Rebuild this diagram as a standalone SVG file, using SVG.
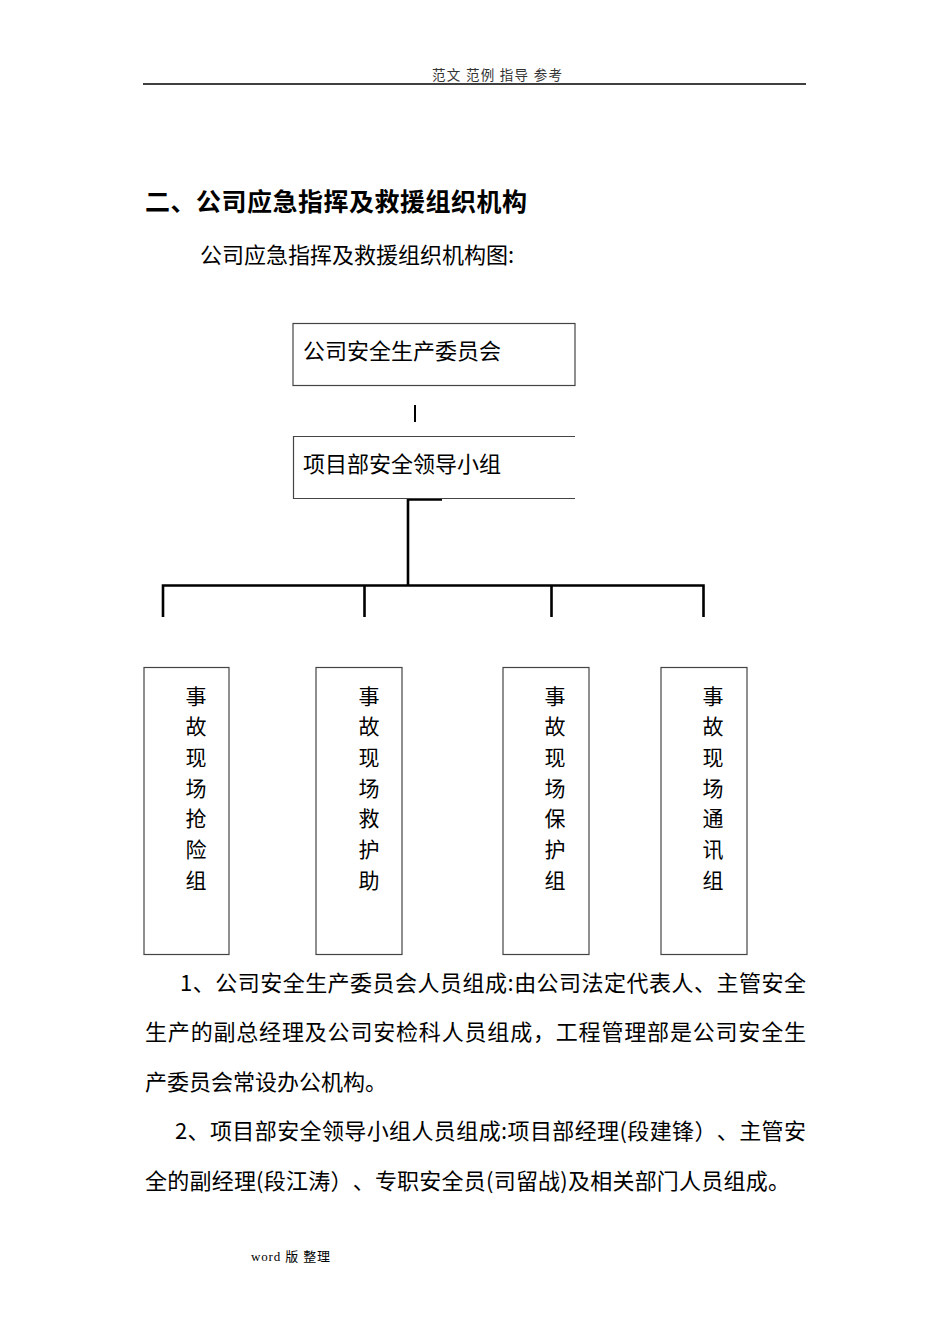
<svg xmlns="http://www.w3.org/2000/svg" width="950" height="1344" viewBox="0 0 950 1344">
<style>
text{font-family:"Noto Sans CJK SC","Noto Sans",sans-serif;fill:#000;text-spacing-trim:space-all}
.box{fill:none;stroke:#444;stroke-width:1.2}
.conn{fill:none;stroke:#000;stroke-width:2.6}
.t22{font-size:22px}
.v{font-size:21px;text-anchor:middle}
</style>
<rect width="950" height="1344" fill="#fff"/>
<g id="header">
<text x="432" y="80" font-size="13.5" textLength="130" lengthAdjust="spacing" style="fill:#333">范文 范例 指导 参考</text>
<line x1="143" y1="84" x2="806" y2="84" stroke="#000" stroke-width="1.5"/>
</g>
<g id="title">
<text x="145" y="211" font-size="25" font-weight="bold" textLength="382" lengthAdjust="spacing">二、公司应急指挥及救援组织机构</text>
<text x="200" y="263" class="t22">公司应急指挥及救援组织机构图:</text>
</g>
<g id="connectors">
<line x1="415" y1="405" x2="415" y2="422" stroke="#000" stroke-width="2"/>
<path class="conn" d="M442,499.5 H408 V585.5"/>
<path class="conn" d="M163,617 V585.5 H703.5 V617"/>
<line class="conn" x1="364.5" y1="585.5" x2="364.5" y2="617"/>
<line class="conn" x1="551.5" y1="585.5" x2="551.5" y2="617"/>
</g>
<g id="node-committee">
<rect class="box" x="293" y="323.5" width="282" height="62"/>
<text x="303" y="359" class="t22">公司安全生产委员会</text>
</g>
<g id="node-project">
<path class="box" d="M575,436.5 H293.5 V498.5 H575"/>
<text x="303" y="472" class="t22">项目部安全领导小组</text>
</g>
<g id="node-rescue">
<rect class="box" x="144" y="667.5" width="85" height="287"/>
<text class="v" x="196"><tspan x="196" y="703.5">事</tspan><tspan x="196" y="734.2">故</tspan><tspan x="196" y="764.8">现</tspan><tspan x="196" y="795.5">场</tspan><tspan x="196" y="826.2">抢</tspan><tspan x="196" y="856.8">险</tspan><tspan x="196" y="887.5">组</tspan></text>
</g>
<g id="node-aid">
<rect class="box" x="316" y="667.5" width="86" height="287"/>
<text class="v" x="369"><tspan x="369" y="703.5">事</tspan><tspan x="369" y="734.2">故</tspan><tspan x="369" y="764.8">现</tspan><tspan x="369" y="795.5">场</tspan><tspan x="369" y="826.2">救</tspan><tspan x="369" y="856.8">护</tspan><tspan x="369" y="887.5">助</tspan></text>
</g>
<g id="node-protect">
<rect class="box" x="503" y="667.5" width="86" height="287"/>
<text class="v" x="555"><tspan x="555" y="703.5">事</tspan><tspan x="555" y="734.2">故</tspan><tspan x="555" y="764.8">现</tspan><tspan x="555" y="795.5">场</tspan><tspan x="555" y="826.2">保</tspan><tspan x="555" y="856.8">护</tspan><tspan x="555" y="887.5">组</tspan></text>
</g>
<g id="node-comm">
<rect class="box" x="661" y="667.5" width="86" height="287"/>
<text class="v" x="713"><tspan x="713" y="703.5">事</tspan><tspan x="713" y="734.2">故</tspan><tspan x="713" y="764.8">现</tspan><tspan x="713" y="795.5">场</tspan><tspan x="713" y="826.2">通</tspan><tspan x="713" y="856.8">讯</tspan><tspan x="713" y="887.5">组</tspan></text>
</g>
<g id="paragraphs">
<text x="180" y="991" class="t22" textLength="626" lengthAdjust="spacing">1、公司安全生产委员会人员组成:由公司法定代表人、主管安全</text>
<text x="145" y="1040" class="t22" textLength="661" lengthAdjust="spacing">生产的副总经理及公司安检科人员组成，工程管理部是公司安全生</text>
<text x="145" y="1090" class="t22">产委员会常设办公机构。</text>
<text x="175" y="1139" class="t22" textLength="631" lengthAdjust="spacing">2、项目部安全领导小组人员组成:项目部经理(段建锋）、主管安</text>
<text x="145" y="1189" class="t22" textLength="645" lengthAdjust="spacing">全的副经理(段江涛）、专职安全员(司留战)及相关部门人员组成。</text>
</g>
<g id="footer">
<text x="251" y="1261" font-size="13" textLength="79" lengthAdjust="spacing" style="font-family:'Liberation Serif','Noto Sans CJK SC',serif">word 版 整理</text>
</g>
</svg>
